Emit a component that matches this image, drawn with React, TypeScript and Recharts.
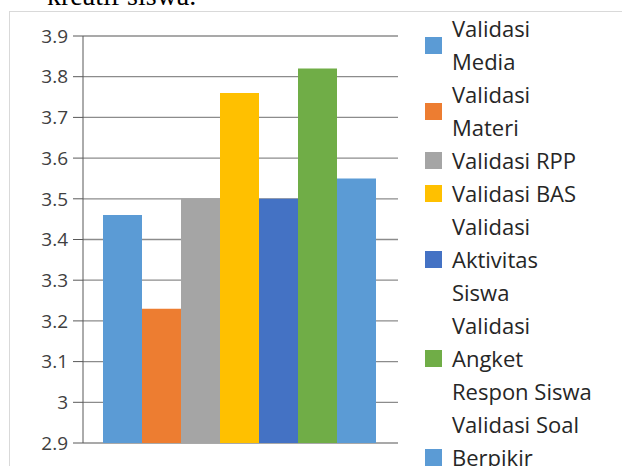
import React from "react"
import { BarChart, Bar, XAxis, YAxis, CartesianGrid } from "recharts"

// series shown as one group of bars
const SERIES_NAMES = [
  "Validasi Media",
  "Validasi Materi",
  "Validasi RPP",
  "Validasi BAS",
  "Validasi Aktivitas Siswa",
  "Validasi Angket Respon Siswa",
  "Validasi Soal Berpikir Kreatif",
]
const SERIES_VALUES = [3.46, 3.23, 3.5, 3.76, 3.5, 3.82, 3.55]
const SERIES_COLORS = ["#5b9bd5", "#ed7d31", "#a5a5a5", "#ffc000", "#4472c4", "#70ad47", "#5b9bd5"]
const Y_TICKS = [2.9, 3, 3.1, 3.2, 3.3, 3.4, 3.5, 3.6, 3.7, 3.8, 3.9]
const CAPTION = "kreatif siswa."

const row: Record<string, string | number> = { name: "Validasi" }
SERIES_NAMES.forEach((n, i) => {
  row["s" + i] = SERIES_VALUES[i]
})
const DATA = [row]

const FONT = "'Open Sans', 'Noto Sans', sans-serif"

// legend is drawn beside the chart so it doesn't eat plot width
function LegendBox() {
  return (
    <div
      style={{
        position: "absolute",
        left: 425,
        top: 12,
        width: 190,
        fontFamily: FONT,
        fontSize: 22,
        lineHeight: "33px",
        color: "#262626",
      }}
    >
      {SERIES_NAMES.map((n, i) => (
        <div key={i} style={{ display: "flex", alignItems: "center" }}>
          <span style={{ width: 17, height: 17, background: SERIES_COLORS[i], flex: "none", marginRight: 10 }} />
          <span style={{ width: "6.55em" }}>{n}</span>
        </div>
      ))}
    </div>
  )
}

export default function App() {
  return (
    <div style={{ position: "fixed", left: 0, top: 0, width: 622, height: 466, overflow: "hidden", background: "#fff" }}>
      <div
        style={{
          position: "absolute",
          left: 47,
          top: -18,
          fontFamily: "'Liberation Serif', serif",
          fontSize: 28,
          lineHeight: "28px",
          color: "#000",
          whiteSpace: "nowrap",
        }}
      >
        {CAPTION}
      </div>
      <div style={{ position: "absolute", left: 9, top: 11, width: 700, height: 600, border: "1px solid #d9d9d9" }} />
      <div style={{ position: "absolute", left: 0, top: 0 }}>
        <BarChart
          width={420}
          height={500}
          data={DATA}
          margin={{ top: 36, right: 22, bottom: 57, left: 0 }}
          barCategoryGap={20}
          barGap={0}
        >
          <CartesianGrid vertical={false} stroke="#8c8c8c" strokeWidth={1.3} />
          <XAxis dataKey="name" hide />
          <YAxis
            width={83}
            domain={[2.9, 3.9]}
            ticks={Y_TICKS}
            interval={0}
            allowDataOverflow
            tickFormatter={(v: number) => String(Number(v.toFixed(1)))}
            tick={{ fill: "#404040", fontSize: 19, fontFamily: FONT }}
            tickSize={10}
            tickMargin={5}
            stroke="#595959"
            axisLine={{ stroke: "#595959" }}
          />
          {SERIES_NAMES.map((n, i) => (
            <Bar key={n} dataKey={"s" + i} name={n} fill={SERIES_COLORS[i]} isAnimationActive={false} />
          ))}
        </BarChart>
      </div>
      <LegendBox />
    </div>
  )
}
